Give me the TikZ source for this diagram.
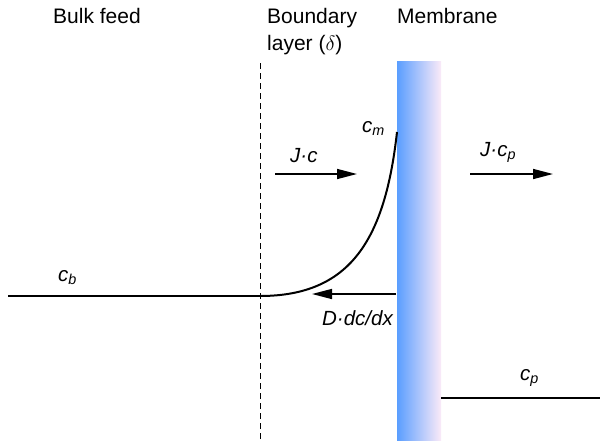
\documentclass[tikz,border=0pt]{standalone}
\usepackage{fontspec}
\setmainfont{Liberation Sans}
\usetikzlibrary{arrows.meta,positioning}
\definecolor{MemLeft}{HTML}{5A9EFF}
\definecolor{MemMid}{HTML}{9FCBF5}
\definecolor{MemRight}{HTML}{FBEAF8}

\begin{document}
\begin{tikzpicture}[
    x=1pt,y=-1pt,
    lbl/.style={anchor=base west,inner sep=0pt,font=\fontsize{21}{27}\selectfont,align=left},
    sym/.style={anchor=base west,inner sep=0pt,font=\fontsize{20.5}{24}\selectfont\itshape},
    flux/.style={-{Triangle[length=20pt,width=10pt]},line width=1.5pt},
    conc/.style={line width=2.6pt},
    prof/.style={line width=2pt}
  ]
    \useasboundingbox (0,0) rectangle (600,440);
    % headings
    \node[lbl] (bulk) at (53,23) {Bulk feed};
    \node[lbl] (layer) at (267,50) {Boundary\\layer ($\delta$)};
    \node[lbl] (mem) at (397,23) {Membrane};
    % membrane and boundary layer edge
    \shade[left color=MemLeft,middle color=MemMid,right color=MemRight] (397,61) rectangle (441,440);
    \coordinate (dtop) at (260,63);
    \coordinate (dbot) at (260,440);
    \draw[dashed,line width=1pt,dash pattern=on 6pt off 4pt] (dtop) -- (dbot);
    % concentration profile
    \coordinate (feed) at (8,296);
    \coordinate (edge) at (260,296);
    \coordinate (wall) at (397,132);
    \coordinate (perm) at (441,398);
    \coordinate (out) at (600,398);
    \draw[conc] (feed) -- (edge);
    \draw[prof] (edge) .. controls (350,296) and (385,240) .. (wall);
    \draw[conc] (perm) -- (out);
    % fluxes
    \coordinate (jc1) at (275,174);
    \coordinate (jc2) at (357,174);
    \coordinate (jp1) at (470,174);
    \coordinate (jp2) at (553,174);
    \coordinate (dd1) at (396,294);
    \coordinate (dd2) at (312,294);
    \foreach \a/\b in {jc1/jc2,jp1/jp2,dd1/dd2}
      \draw[flux] (\a) -- (\b);
    % labels
    \node[sym] (cb) at (58,281) {c\textsubscript{b}};
    \node[sym] (cm) at (362,132) {c\textsubscript{m}};
    \node[sym] (jc) at (290,162) {J·c};
    \node[sym] (jcp) at (480,156) {J·c\textsubscript{p}};
    \node[sym,anchor=base east] (ddx) at (393,325) {D·dc/dx};
    \node[sym] (cp) at (520,380) {c\textsubscript{p}};
\end{tikzpicture}
\end{document}
